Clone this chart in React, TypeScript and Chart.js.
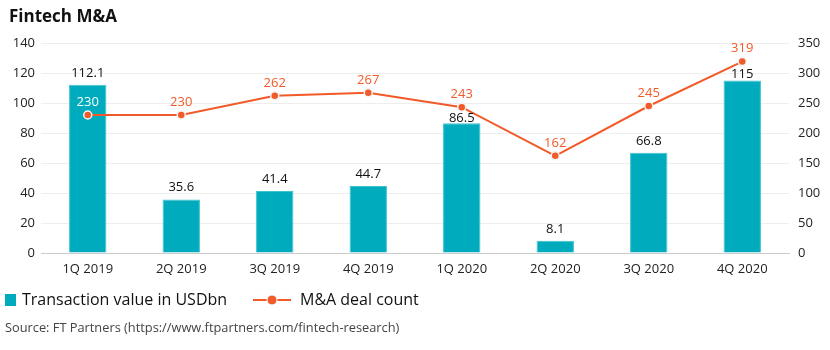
import React, { useEffect, useRef } from "react";
import { Chart, registerables } from "chart.js";

Chart.register(...registerables);

const categories = ["1Q 2019", "2Q 2019", "3Q 2019", "4Q 2019", "1Q 2020", "2Q 2020", "3Q 2020", "4Q 2020"];
const transactionValues = [112.1, 35.6, 41.4, 44.7, 86.5, 8.1, 66.8, 115];
const dealCounts = [230, 230, 262, 267, 243, 162, 245, 319];
const leftTicks = [0, 20, 40, 60, 80, 100, 120, 140];
const rightTicks = [0, 50, 100, 150, 200, 250, 300, 350];

const TITLE = "Fintech M&A";
const BAR_LABEL = "Transaction value in USDbn";
const LINE_LABEL = "M&A deal count";
const SOURCE = "Source: FT Partners (https://www.ftpartners.com/fintech-research)";

const FONT = "'Open Sans', sans-serif";
const BAR_COLOR = "#00abbd";
const BAR_BORDER = "#3cc3d2";
const LINE_COLOR = "#f25a29";

const decorPlugin = {
  id: "decor",
  afterDatasetsDraw(chart: any) {
    const ctx = chart.ctx;
    ctx.save();
    const barMeta = chart.getDatasetMeta(1);
    const lineMeta = chart.getDatasetMeta(0);
    ctx.font = `13px ${FONT}`;
    ctx.textAlign = "center";
    ctx.textBaseline = "middle";
    // bar value labels
    barMeta.data.forEach((el: any, i: number) => {
      const pt = lineMeta.data[i];
      const diff = el.y - pt.y;
      let off = 12;
      if (diff > 0 && diff < 24) off = Math.max(5, diff / 2 - 3);
      ctx.fillStyle = "#111";
      ctx.fillText(String(transactionValues[i]), el.x, el.y - off);
    });
    // line value labels
    lineMeta.data.forEach((el: any, i: number) => {
      const barEl = barMeta.data[i];
      const inside = el.y - 13 > barEl.y;
      ctx.fillStyle = inside ? "#ffffff" : LINE_COLOR;
      ctx.fillText(String(dealCounts[i]), el.x, el.y - 13);
    });
    ctx.restore();
  },
  afterDraw(chart: any) {
    const ctx = chart.ctx;
    ctx.save();
    ctx.textBaseline = "middle";
    ctx.textAlign = "left";
    // title
    ctx.fillStyle = "#111";
    ctx.font = `bold 17px ${FONT}`;
    ctx.fillText(TITLE, 9, 17);
    // legend
    ctx.fillStyle = BAR_COLOR;
    ctx.fillRect(5, 294, 11, 12);
    ctx.fillStyle = "#111";
    ctx.font = `16px ${FONT}`;
    ctx.fillText(BAR_LABEL, 22, 300);
    ctx.strokeStyle = LINE_COLOR;
    ctx.lineWidth = 2;
    ctx.beginPath();
    ctx.moveTo(253, 300);
    ctx.lineTo(291, 300);
    ctx.stroke();
    ctx.beginPath();
    ctx.arc(272, 300, 5, 0, Math.PI * 2);
    ctx.fillStyle = LINE_COLOR;
    ctx.fill();
    ctx.strokeStyle = "#ffffff";
    ctx.lineWidth = 1;
    ctx.stroke();
    ctx.fillStyle = "#111";
    ctx.fillText(LINE_LABEL, 300, 300);
    // source
    ctx.fillStyle = "#444";
    ctx.font = `12.8px ${FONT}`;
    ctx.fillText(SOURCE, 5, 328);
    ctx.restore();
  },
};

export default function App() {
  const ref = useRef<HTMLCanvasElement>(null);
  useEffect(() => {
    document.body.style.margin = "0";
    const chart = new Chart(ref.current as HTMLCanvasElement, {
      type: "bar",
      data: {
        labels: categories,
        datasets: [
          {
            type: "line",
            label: LINE_LABEL,
            data: dealCounts,
            yAxisID: "y1",
            borderColor: LINE_COLOR,
            backgroundColor: LINE_COLOR,
            borderWidth: 2,
            pointRadius: 4,
            pointBorderColor: "#f4f4f4",
            pointBorderWidth: 1.5,
            pointBackgroundColor: LINE_COLOR,
            tension: 0,
            order: 0,
          } as any,
          {
            type: "bar",
            label: BAR_LABEL,
            data: transactionValues,
            yAxisID: "y",
            backgroundColor: BAR_COLOR,
            borderColor: BAR_BORDER,
            borderWidth: 1,
            barPercentage: 0.4,
            categoryPercentage: 1,
            order: 1,
          },
        ],
      },
      options: {
        animation: false,
        responsive: false,
        maintainAspectRatio: false,
        layout: { padding: { top: 43, bottom: 0, left: 0, right: 0 } },
        plugins: { legend: { display: false }, tooltip: { enabled: false }, title: { display: false } },
        scales: {
          x: {
            grid: { display: false, drawTicks: false },
            border: { display: true, color: "#cccccc", width: 1 },
            ticks: { color: "#222", font: { family: FONT, size: 13 }, padding: 8, maxRotation: 0 },
            afterFit(scale: any) {
              scale.height = 97;
            },
          },
          y: {
            position: "left",
            min: 0,
            max: 140,
            afterBuildTicks(scale: any) {
              scale.ticks = leftTicks.map((v) => ({ value: v }));
            },
            grid: { color: "#eeeeee", drawTicks: false },
            border: { display: false },
            ticks: { color: "#222", font: { family: FONT, size: 13 }, padding: 6 },
            afterFit(scale: any) {
              scale.width = 41;
            },
          },
          y1: {
            position: "right",
            min: 0,
            max: 350,
            afterBuildTicks(scale: any) {
              scale.ticks = rightTicks.map((v) => ({ value: v }));
            },
            grid: { display: false, drawTicks: false },
            border: { display: false },
            ticks: { color: "#222", font: { family: FONT, size: 13 }, padding: 9 },
            afterFit(scale: any) {
              scale.width = 41;
            },
          },
        },
      },
      plugins: [decorPlugin],
    });
    return () => chart.destroy();
  }, []);
  return <canvas ref={ref} width={830} height={350} style={{ display: "block" }} />;
}
